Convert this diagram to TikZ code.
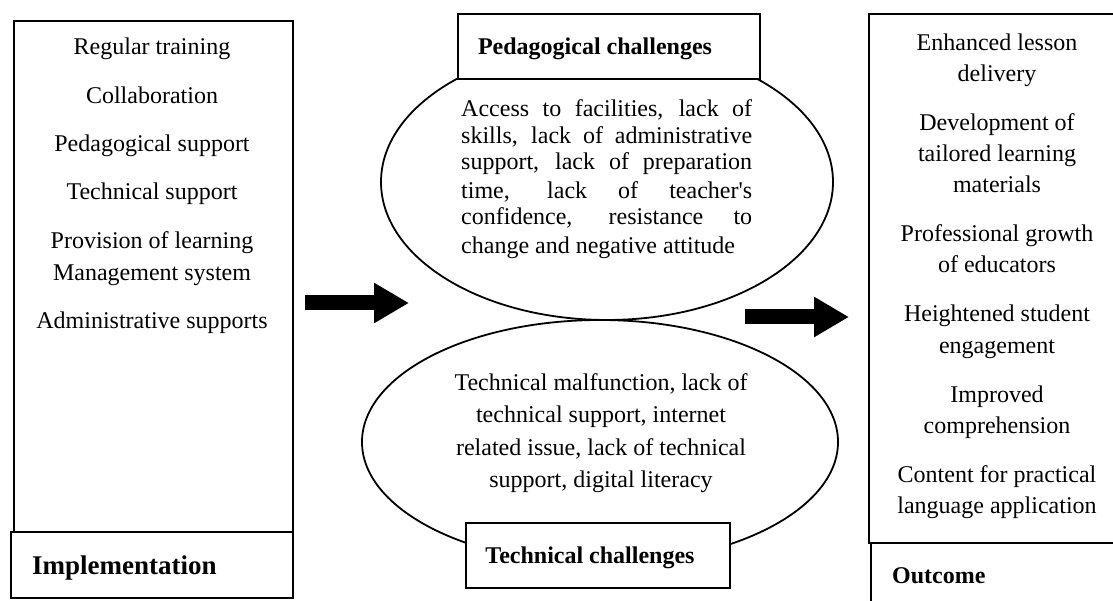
\documentclass[tikz,border=0pt]{standalone}
\usepackage{fontspec}
\setmainfont{Liberation Serif}
\usetikzlibrary{shapes.geometric,arrows.meta}
\begin{document}
\begin{tikzpicture}[x=1pt,y=-1pt,
  every node/.style={font=\fontsize{24}{30}\selectfont, inner sep=0pt},
  panel/.style={draw, line width=2pt, fill=white, anchor=north west, inner sep=0pt},
  lbl/.style={anchor=base},
  headlbl/.style={font=\fontsize{24}{30}\selectfont\bfseries},
  oval/.style={draw, ellipse, line width=1.8pt, inner sep=0pt},
  blockarrow/.style={line width=15pt, -{Triangle[length=35pt,width=38pt]}}]
\useasboundingbox (0,0) rectangle (1113,601);
\clip (0,0) rectangle (1113,601);

% left column: implementation
\node[panel, minimum width=279pt, minimum height=511pt] (impbox) at (13,20) {};
\node[panel, minimum width=282pt, minimum height=66pt] (imphead) at (10,531) {};
\node[headlbl, font=\fontsize{27}{32}\selectfont\bfseries, anchor=base west] (implbl) at (32,574) {Implementation};
\foreach \yy/\txt [count=\i] in {55/{Regular training}, 104/{Collaboration},
    152/{Pedagogical support}, 200/{Technical support},
    249/{Provision of learning}, 281/{Management system},
    329/{Administrative supports}}
  \node[lbl] (imp\i) at (152,\yy) {\txt};

% middle column: the two groups of challenges
\node[oval, minimum width=452pt, minimum height=276pt] (pedoval) at (607,182) {};
\node[oval, minimum width=476pt, minimum height=244pt] (techoval) at (600,442) {};
\node[panel, minimum width=302pt, minimum height=65pt] (pedhead) at (457,13) {};
\node[headlbl, anchor=base] (pedlbl) at (595,55) {Pedagogical challenges};
\node[panel, minimum width=264pt, minimum height=65pt] (techhead) at (465,522) {};
\node[headlbl, anchor=base] (techlbl) at (590,563) {Technical challenges};

\foreach \yy/\txt [count=\i] in {117/{Access to facilities, lack of},
    144/{skills, lack of administrative}, 170/{support, lack of preparation},
    199/{time, lack of teacher\textquotesingle s}, 225/{confidence, resistance to}}
  \node[anchor=base west] (ped\i) at (461,\yy) {\makebox[291pt][s]{\txt}};
\node[anchor=base west] (ped6) at (461,254) {change and negative attitude};

\foreach \yy/\txt [count=\i] in {390/{Technical malfunction, lack of},
    422/{technical support, internet}, 455/{related issue, lack of technical},
    487/{support, digital literacy}}
  \node[lbl] (tech\i) at (601,\yy) {\txt};

% right column: outcome
\node[panel, minimum width=260pt, minimum height=529pt] (outbox) at (868,13) {};
\node[panel, minimum width=260pt, minimum height=80pt] (outhead) at (870,542) {};
\node[headlbl, anchor=base west] (outlbl) at (892,583) {Outcome};
\foreach \yy/\txt [count=\i] in {51/{Enhanced lesson}, 82/{delivery},
    131/{Development of}, 162/{tailored learning}, 193/{materials},
    242/{Professional growth}, 273/{of educators},
    322/{Heightened student}, 353/{engagement},
    402/{Improved}, 433/{comprehension},
    482/{Content for practical}, 513/{language application}}
  \node[lbl] (out\i) at (997,\yy) {\txt};

% block arrows between the columns
\coordinate (inA) at (305,303);
\coordinate (inB) at (409,303);
\coordinate (outA) at (745,317);
\coordinate (outB) at (849,317);
\draw[blockarrow] (inA) -- (inB);
\draw[blockarrow] (outA) -- (outB);
\end{tikzpicture}
\end{document}
